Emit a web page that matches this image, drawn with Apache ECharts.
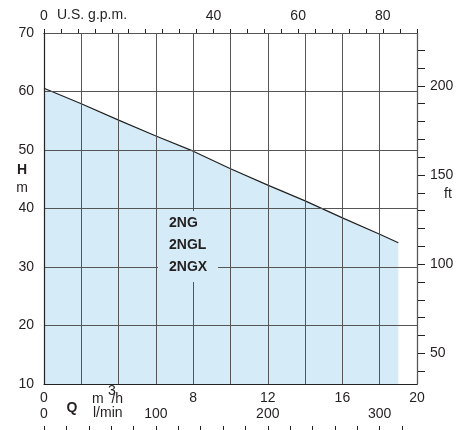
<!DOCTYPE html>
<html><head><meta charset="utf-8">
<script src="https://cdn.jsdelivr.net/npm/echarts@6/dist/echarts.min.js"></script>
<style>html,body{margin:0;padding:0;background:#fff}#c{width:472px;height:430px}</style>
</head><body><div id="c"></div>
<script>
// Data
const qM3h = [0, 2, 4, 6, 8, 10, 12, 14, 16, 18, 19];
const headM = [60.55, 57.9, 55.1, 52.4, 49.8, 46.8, 44.0, 41.3, 38.4, 35.6, 34.15];
const bottomTickLabels = [0, 8, 12, 16, 20];
const lminLabels = [0, 100, 200, 300];
const gpmLabels = [0, 40, 60, 80];
const ftRange = [40, 220];
const ftLabels = [50, 100, 150, 200];
const modelNames = ['2NG', '2NGL', '2NGX'];

const M_TO_FT = 3.28084, M3H_TO_LMIN = 1000 / 60, M3H_TO_GPM = 4.40287;
const FONT = "'Liberation Sans', Arial, sans-serif";
const TXT = '#231f20';
const chart = echarts.init(document.getElementById('c'));
const lab = {fontFamily: FONT, fontSize: 14, color: TXT};

// main grid geometry (H: 10..70 m)
const G = {left: 44, right: 55, top: 33, bottom: 46, h: 430};
const pxPerM = (G.h - G.top - G.bottom) / 60;
const yOfM = m => (G.h - G.bottom) - (m - 10) * pxPerM;
const ftTop = yOfM(ftRange[1] / M_TO_FT), ftBot = yOfM(ftRange[0] / M_TO_FT);

chart.setOption({
  animation: false,
  grid: [
    {left: G.left, right: G.right, top: G.top, bottom: G.bottom},
    {left: G.left, right: G.right, top: ftTop, bottom: G.h - ftBot}
  ],
  xAxis: [
    {gridIndex: 0, type: 'value', position: 'bottom', min: 0, max: 20, interval: 2, z: 3,
     axisLine: {show: true, onZero: false, lineStyle: {color: '#222', width: 1.2}},
     axisTick: {show: false},
     splitLine: {show: true, lineStyle: {color: '#555', width: 1}},
     axisLabel: Object.assign({margin: 7, formatter: v => bottomTickLabels.includes(v) ? String(v) : ''}, lab)},
    {gridIndex: 0, type: 'value', position: 'bottom', offset: 42, min: 0, max: 20 * M3H_TO_LMIN, interval: 20,
     axisLine: {show: false, onZero: false},
     axisTick: {show: true, inside: false, length: 4, lineStyle: {color: '#222'}},
     splitLine: {show: false},
     axisLabel: Object.assign({inside: true, margin: 5, showMaxLabel: false,
       formatter: v => lminLabels.includes(Math.round(v)) ? String(Math.round(v)) : ''}, lab)},
    {gridIndex: 0, type: 'value', position: 'top', min: 0, max: 20 * M3H_TO_GPM, interval: 4,
     axisLine: {show: true, onZero: false, lineStyle: {color: '#222', width: 1.2}},
     axisTick: {show: true, inside: false, length: 4, lineStyle: {color: '#222'}},
     splitLine: {show: false},
     axisLabel: Object.assign({margin: 10, showMaxLabel: false,
       formatter: v => gpmLabels.includes(v) ? String(v) : ''}, lab)},
    {gridIndex: 1, type: 'value', show: false, min: 0, max: 20}
  ],
  yAxis: [
    {gridIndex: 0, type: 'value', position: 'left', min: 10, max: 70, interval: 10, z: 3,
     axisLine: {show: true, onZero: false, lineStyle: {color: '#222', width: 1.2}},
     axisTick: {show: false},
     splitLine: {show: true, lineStyle: {color: '#555', width: 1}},
     axisLabel: Object.assign({margin: 10}, lab)},
    {gridIndex: 0, type: 'value', position: 'right', min: 10, max: 70,
     axisLine: {show: true, onZero: false, lineStyle: {color: '#222', width: 1.2}},
     axisTick: {show: false}, splitLine: {show: false}, axisLabel: {show: false}},
    {gridIndex: 1, type: 'value', position: 'right', min: ftRange[0], max: ftRange[1], interval: 10,
     axisLine: {show: false, onZero: false},
     axisTick: {show: true, inside: false, length: 8, lineStyle: {color: '#222'}},
     splitLine: {show: false},
     axisLabel: Object.assign({margin: 13, formatter: v => ftLabels.includes(v) ? String(v) : ''}, lab)}
  ],
  series: [{
    type: 'line', xAxisIndex: 0, yAxisIndex: 0,
    data: qM3h.map((q, i) => [q, headM[i]]),
    showSymbol: false, smooth: false,
    lineStyle: {color: '#222', width: 1.2},
    areaStyle: {color: '#d5ebf8', opacity: 1},
    z: 2
  }],
  graphic: [
    {type: 'rect', shape: {x: 158, y: 211, width: 60, height: 71}, style: {fill: '#d5ebf8'}, z: 10},
    ...modelNames.map((n, i) => ({type: 'text', x: 169, y: 223 + i * 22, z: 11,
      style: {text: n, font: 'bold 14px ' + FONT, fill: TXT, textVerticalAlign: 'middle'}})),
    {type: 'text', x: 57, y: 15, z: 11, style: {text: 'U.S. g.p.m.', font: '14px ' + FONT, fill: TXT, textVerticalAlign: 'middle'}},
    {type: 'text', x: 22, y: 170, z: 11, style: {text: 'H', font: 'bold 14px ' + FONT, fill: TXT, textAlign: 'center', textVerticalAlign: 'middle'}},
    {type: 'text', x: 22, y: 188, z: 11, style: {text: 'm', font: '14px ' + FONT, fill: TXT, textAlign: 'center', textVerticalAlign: 'middle'}},
    {type: 'text', x: 448, y: 194, z: 11, style: {text: 'ft', font: '14px ' + FONT, fill: TXT, textAlign: 'center', textVerticalAlign: 'middle'}},
    {type: 'text', x: 72, y: 408, z: 11, style: {text: 'Q', font: 'bold 14px ' + FONT, fill: TXT, textAlign: 'center', textVerticalAlign: 'middle'}},
    {type: 'text', x: 92, y: 399, z: 11, style: {text: 'm  /h', font: '14px ' + FONT, fill: TXT, textVerticalAlign: 'middle'}},
    {type: 'text', x: 112, y: 391, z: 11, style: {text: '3', font: '14px ' + FONT, fill: TXT, textAlign: 'center', textVerticalAlign: 'middle'}},
    {type: 'text', x: 93, y: 413, z: 11, style: {text: 'l/min', font: '14px ' + FONT, fill: TXT, textVerticalAlign: 'middle'}}
  ]
});
</script></body></html>
